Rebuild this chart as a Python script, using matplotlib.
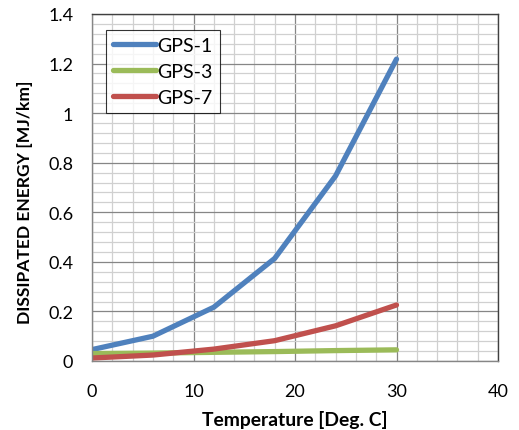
import matplotlib
matplotlib.use("Agg")
import matplotlib.pyplot as plt
from matplotlib.ticker import MultipleLocator, FuncFormatter

temps = [0, 6, 12, 18, 24, 30]
gps1 = [0.046, 0.100, 0.217, 0.414, 0.747, 1.218]
gps3 = [0.030, 0.032, 0.035, 0.038, 0.042, 0.045]
gps7 = [0.012, 0.024, 0.048, 0.082, 0.142, 0.226]
series_names = ["GPS-1", "GPS-3", "GPS-7"]
colors = ["#4F81BD", "#9BBB59", "#C0504D"]

plt.rcParams['font.family'] = ['Lato', 'DejaVu Sans']

fig = plt.figure(figsize=(5.19, 4.31), dpi=100)
ax = fig.add_axes([92/519, 1-362/431, (498-92)/519, (362-15)/431])

for vals, name, c in zip([gps1, gps3, gps7], series_names, colors):
    ax.plot(temps, vals, color=c, lw=3.8, label=name, solid_capstyle='round')

ax.set_xlim(0, 40)
ax.set_ylim(0, 1.4)
ax.xaxis.set_major_locator(MultipleLocator(10))
ax.xaxis.set_minor_locator(MultipleLocator(2))
ax.yaxis.set_major_locator(MultipleLocator(0.2))
ax.yaxis.set_minor_locator(MultipleLocator(0.04))
ax.grid(which='major', color='#868686', lw=0.9)
ax.grid(which='minor', color='#d0d0d0', lw=0.9)
ax.set_axisbelow(True)

def yfmt(v, pos):
    s = f"{v:.1f}"
    if s.endswith(".0"):
        s = s[:-2]
    return s
ax.yaxis.set_major_formatter(FuncFormatter(yfmt))
ax.tick_params(which='both', length=0, labelsize=13, colors='black')
ax.tick_params(axis='x', pad=16)
ax.tick_params(axis='y', pad=13.5)
for s in ax.spines.values():
    s.set_color('#404040')
    s.set_linewidth(1.0)
ax.spines['left'].set_color('#868686')
ax.spines['bottom'].set_color('#868686')

ax.set_xlabel("Temperature [Deg. C]", fontsize=13.9, fontweight='bold')
ax.set_ylabel("DISSIPATED ENERGY [MJ/km]", fontsize=12.6, fontweight='bold')
ax.xaxis.set_label_coords(0.5, (362-420)/347)
ax.xaxis.label.set_va('center')
ax.yaxis.set_label_coords((25-92)/406, (362-202)/347)
ax.yaxis.label.set_va('center')

leg = ax.legend(loc='upper left', bbox_to_anchor=((106-92)/406, (362-31)/347), fontsize=14,
                frameon=True, fancybox=False, edgecolor='black', handlelength=2.2,
                handletextpad=0.1, borderpad=0.35, labelspacing=0.46, borderaxespad=0)
leg.get_frame().set_linewidth(0.8)

fig.savefig("out.png", dpi=100)
